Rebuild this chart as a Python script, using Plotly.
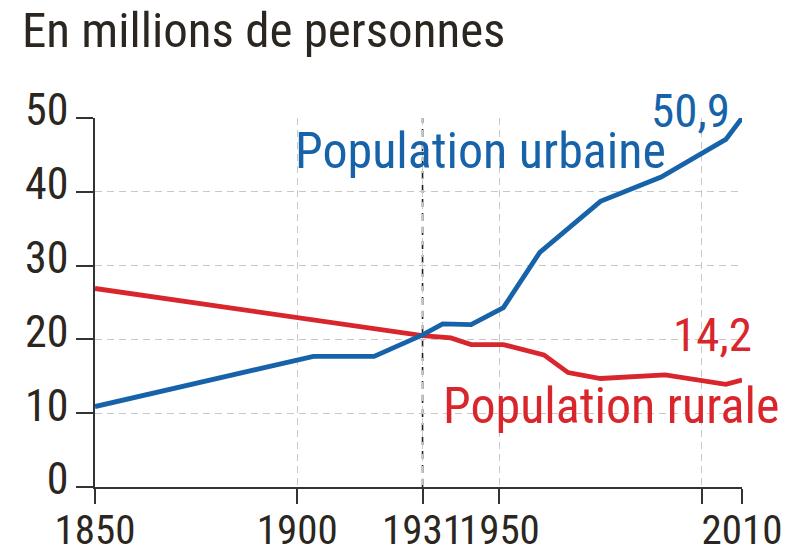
import plotly.graph_objects as go

# Data
urban_years = [1850, 1904, 1919, 1931, 1936, 1943, 1951, 1960, 1975, 1990, 2006, 2010]
urban_values = [10.9, 17.7, 17.7, 20.6, 22.1, 22.0, 24.3, 31.8, 38.7, 42.0, 47.1, 50.0]
rural_years = [1850, 1931, 1938, 1943, 1951, 1961, 1967, 1975, 1991, 2006, 2010]
rural_values = [26.9, 20.5, 20.2, 19.3, 19.3, 17.9, 15.5, 14.7, 15.2, 13.9, 14.5]

x_tickvals = [1850, 1900, 1931, 1950, 2000, 2010]
x_ticktext = ["1850", "1900", "1931", "1950", "", "2010"]
y_tickvals = [0, 10, 20, 30, 40, 50]

BLUE = "#1763aa"
RED = "#d8262c"
INK = "#2b2620"
FONT = "Roboto Condensed, DejaVu Sans Condensed, sans-serif"

fig = go.Figure()
fig.add_trace(go.Scatter(x=rural_years, y=rural_values, mode="lines",
                         line=dict(color=RED, width=4.8), cliponaxis=False,
                         hoverinfo="skip"))
fig.add_trace(go.Scatter(x=urban_years, y=urban_values, mode="lines",
                         line=dict(color=BLUE, width=4.8), cliponaxis=False,
                         hoverinfo="skip"))

# 1931 reference line (darker dashes)
fig.add_shape(type="line", xref="x", yref="y", x0=1931, x1=1931, y0=0, y1=50,
              line=dict(color="#222", width=1.6, dash="8px,6px"), layer="below")

fig.update_layout(
    width=803, height=550,
    margin=dict(l=87, r=69, t=110, b=71, autoexpand=False),
    paper_bgcolor="white", plot_bgcolor="white",
    showlegend=False,
    font=dict(family=FONT, color=INK, size=44),
    xaxis=dict(range=[1850, 2010], tickvals=x_tickvals, ticktext=x_ticktext, tickangle=0,
               showgrid=True, gridcolor="#c8c8c8", griddash="7px,5px", gridwidth=1.3,
               showline=True, linecolor="#333", linewidth=1.6,
               ticks="outside", ticklen=15, tickwidth=1.6, tickcolor="#333",
               ticklabelstandoff=-9,
               tickfont=dict(size=41, color=INK), zeroline=False, fixedrange=True),
    yaxis=dict(range=[0, 50], tickvals=y_tickvals,
               showgrid=True, gridcolor="#c8c8c8", griddash="7px,5px", gridwidth=1.3,
               showline=True, linecolor="#333", linewidth=1.6,
               ticks="outside", ticklen=17, tickwidth=1.6, tickcolor="#333",
               ticklabelstandoff=-1, ticklabelshift=-8,
               tickfont=dict(size=44, color=INK), zeroline=False, fixedrange=True),
)

ann = [
    dict(text="En millions de personnes", xref="paper", yref="paper", x=-0.114, y=1.318,
         xanchor="left", yanchor="top", borderpad=0, font=dict(size=49, color=INK)),
    dict(text="Population urbaine", x=1945.3, y=45.5, font=dict(size=50, color=BLUE)),
    dict(text="50,9", xref="paper", yref="paper", x=0.984, y=1.10,
         font=dict(size=47, color=BLUE)),
    dict(text="14,2", x=2002.6, y=20.6, font=dict(size=47, color=RED)),
    dict(text="Population rurale", x=1977.6, y=11.0, font=dict(size=50, color=RED)),
]
for a in ann:
    a.setdefault("xref", "x")
    a.setdefault("yref", "y")
    a["showarrow"] = False
    fig.add_annotation(**a)

fig.write_html("out.html")
